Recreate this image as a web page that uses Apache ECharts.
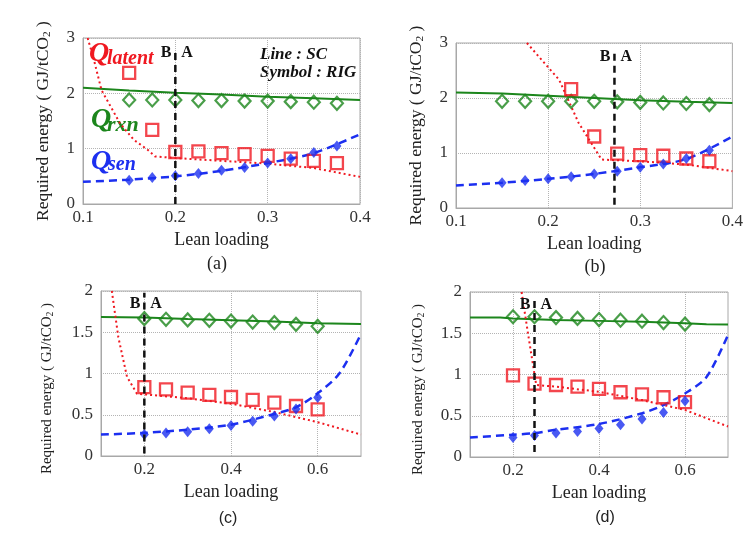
<!DOCTYPE html>
<html>
<head>
<meta charset="utf-8">
<script src="https://cdn.jsdelivr.net/npm/echarts@6/dist/echarts.min.js"></script>
<style>html,body{margin:0;padding:0;background:#fff}#c{width:746px;height:535px}</style>
</head>
<body>
<div id="c"></div>
<script>
// ---------- Panel (a) ----------
const symXA   = [0.15, 0.175, 0.2, 0.225, 0.25, 0.275, 0.3, 0.325, 0.35, 0.375];
const rxnSymA = [1.88, 1.88, 1.88, 1.87, 1.87, 1.86, 1.86, 1.85, 1.84, 1.82];
const latSymA = [2.37, 1.34, 0.94, 0.95, 0.92, 0.90, 0.87, 0.82, 0.78, 0.74];
const senSymA = [0.43, 0.48, 0.51, 0.55, 0.61, 0.66, 0.74, 0.82, 0.93, 1.05];
const rxnLineXA = [0.1, 0.15, 0.2, 0.25, 0.3, 0.35, 0.4];
const rxnLineA  = [2.10, 2.05, 2.01, 1.98, 1.94, 1.91, 1.88];
const latLineXA = [0.105, 0.111, 0.12, 0.14, 0.155, 0.17, 0.178, 0.2, 0.25, 0.3, 0.35, 0.4];
const latLineA  = [3.0, 2.66, 2.06, 1.46, 1.16, 0.98, 0.86, 0.83, 0.78, 0.73, 0.65, 0.49];
const senLineXA = [0.1, 0.15, 0.2, 0.25, 0.3, 0.35, 0.4];
const senLineA  = [0.40, 0.44, 0.50, 0.60, 0.74, 0.92, 1.26];
const dividerA  = {x: 0.2, top: 2.8, bottom: 0, label: 2.73};

// ---------- Panel (b) ----------
const symXB   = [0.15, 0.175, 0.2, 0.225, 0.25, 0.275, 0.3, 0.325, 0.35, 0.375];
const rxnSymB = [1.94, 1.94, 1.94, 1.94, 1.94, 1.93, 1.92, 1.91, 1.90, 1.88];
const latSymB = [null, null, null, 2.16, 1.30, 0.99, 0.96, 0.95, 0.90, 0.85];
const senSymB = [0.46, 0.50, 0.53, 0.57, 0.62, 0.67, 0.74, 0.80, 0.90, 1.05];
const rxnLineXB = [0.1, 0.15, 0.2, 0.25, 0.3, 0.35, 0.4];
const rxnLineB  = [2.10, 2.08, 2.04, 2.00, 1.96, 1.93, 1.91];
const latLineXB = [0.177, 0.212, 0.233, 0.258, 0.3, 0.35, 0.4];
const latLineB  = [3.0, 2.33, 1.55, 0.88, 0.85, 0.79, 0.67];
const senLineXB = [0.1, 0.15, 0.2, 0.25, 0.3, 0.35, 0.4];
const senLineB  = [0.41, 0.46, 0.53, 0.62, 0.74, 0.89, 1.30];
const dividerB  = {x: 0.272, top: 2.85, bottom: 0.06, label: 2.74};

// ---------- Panel (c) ----------
const symXC   = [0.2, 0.25, 0.3, 0.35, 0.4, 0.45, 0.5, 0.55, 0.6];
const rxnSymC = [1.665, 1.657, 1.65, 1.645, 1.636, 1.624, 1.616, 1.596, 1.572];
const latSymC = [0.836, 0.808, 0.768, 0.74, 0.715, 0.68, 0.646, 0.606, 0.566];
const senSymC = [0.26, 0.28, 0.295, 0.33, 0.37, 0.42, 0.485, 0.57, 0.71];
const rxnLineXC = [0.1, 0.2, 0.3, 0.4, 0.5, 0.6, 0.7];
const rxnLineC  = [1.685, 1.68, 1.66, 1.645, 1.63, 1.61, 1.60];
const latLineXC = [0.125, 0.14, 0.16, 0.183, 0.3, 0.4, 0.5, 0.6, 0.7];
const latLineC  = [2.0, 1.44, 0.96, 0.755, 0.70, 0.634, 0.533, 0.41, 0.26];
const senLineXC = [0.1, 0.2, 0.3, 0.4, 0.5, 0.55, 0.6, 0.65, 0.7];
const senLineC  = [0.26, 0.28, 0.32, 0.38, 0.51, 0.59, 0.76, 1.0, 1.48];
const dividerC  = {x: 0.2, top: 1.98, bottom: 0.03, label: 1.85};

// ---------- Panel (d) ----------
const symXD   = [0.2, 0.25, 0.3, 0.35, 0.4, 0.45, 0.5, 0.55, 0.6];
const rxnSymD = [1.70, 1.70, 1.69, 1.68, 1.666, 1.658, 1.646, 1.63, 1.61];
const latSymD = [0.99, 0.89, 0.873, 0.853, 0.825, 0.785, 0.76, 0.724, 0.664];
const senSymD = [0.237, 0.26, 0.29, 0.31, 0.346, 0.39, 0.46, 0.54, 0.68];
const rxnLineXD = [0.1, 0.17, 0.2, 0.3, 0.4, 0.5, 0.6, 0.65, 0.7];
const rxnLineD  = [1.69, 1.69, 1.68, 1.66, 1.65, 1.64, 1.62, 1.61, 1.605];
const latLineXD = [0.22, 0.236, 0.254, 0.3, 0.4, 0.5, 0.6, 0.7];
const latLineD  = [2.0, 1.46, 0.873, 0.853, 0.79, 0.69, 0.57, 0.37];
const senLineXD = [0.1, 0.2, 0.25, 0.3, 0.4, 0.5, 0.55, 0.6, 0.65, 0.7];
const senLineD  = [0.237, 0.27, 0.29, 0.33, 0.40, 0.53, 0.63, 0.77, 0.97, 1.48];
const dividerD  = {x: 0.25, top: 1.9, bottom: 0.06, label: 1.84};

// ---------- Axis ticks ----------
const xTicksAB = [0.1, 0.2, 0.3, 0.4];
const xTicksCD = [0.2, 0.4, 0.6];
const yMaxAB = 3, yStepAB = 1;
const yMaxCD = 2, yStepCD = 0.5;

const SERIF = 'Liberation Serif';
const GREEN = '#1c861c', RED = '#f01820', BLUE = '#1c2ff0';

const pairs = (xs, ys) => xs.map((x, i) => [x, ys[i]]).filter(p => p[1] != null);

const panels = [
  {g: {left: 83, top: 38, width: 277, height: 166}, xr: [0.1, 0.4], xt: xTicksAB, ym: yMaxAB, ys: yStepAB, nameFs: 17.5, nameGap: 30, namePad: [0,0,0,0],
   sx: symXA, rs: rxnSymA, ls: latSymA, ss: senSymA, rl: [rxnLineXA, rxnLineA], ll: [latLineXA, latLineA], sl: [senLineXA, senLineA], dv: dividerA},
  {g: {left: 456, top: 43, width: 279, height: 165}, xr: [0.1, 0.4], xt: xTicksAB, ym: yMaxAB, ys: yStepAB, nameFs: 17.5, nameGap: 30, namePad: [0,0,0,0],
   sx: symXB, rs: rxnSymB, ls: latSymB, ss: senSymB, rl: [rxnLineXB, rxnLineB], ll: [latLineXB, latLineB], sl: [senLineXB, senLineB], dv: dividerB},
  {g: {left: 101, top: 291, width: 260, height: 165}, xr: [0.1, 0.7], xt: xTicksCD, ym: yMaxCD, ys: yStepCD, nameFs: 15, nameGap: 46, namePad: [0,30,0,0],
   sx: symXC, rs: rxnSymC, ls: latSymC, ss: senSymC, rl: [rxnLineXC, rxnLineC], ll: [latLineXC, latLineC], sl: [senLineXC, senLineC], dv: dividerC},
  {g: {left: 470, top: 292, width: 258, height: 165}, xr: [0.1, 0.7], xt: xTicksCD, ym: yMaxCD, ys: yStepCD, nameFs: 15, nameGap: 44, namePad: [0,30,0,0],
   sx: symXD, rs: rxnSymD, ls: latSymD, ss: senSymD, rl: [rxnLineXD, rxnLineD], ll: [latLineXD, latLineD], sl: [senLineXD, senLineD], dv: dividerD}
];

const grid = [], xAxis = [], yAxis = [], series = [];
panels.forEach((p, i) => {
  grid.push(Object.assign({show: true, borderColor: '#a8a8a8', borderWidth: 1, backgroundColor: '#fff'}, p.g));
  xAxis.push({
    type: 'value', gridIndex: i, min: p.xr[0], max: p.xr[1],
    name: 'Lean loading', nameLocation: 'middle', nameGap: 27,
    nameTextStyle: {fontFamily: SERIF, fontSize: 18, color: '#222'},
    axisLine: {show: true, lineStyle: {color: '#a8a8a8'}},
    axisTick: {show: false, customValues: p.xt},
    axisLabel: {customValues: p.xt, fontFamily: SERIF, fontSize: 17, color: '#333', margin: 5, formatter: v => String(+v.toFixed(2))},
    splitLine: {show: true, lineStyle: {color: '#b4b4b4', type: 'dotted', width: 1}}
  });
  yAxis.push({
    type: 'value', gridIndex: i, min: 0, max: p.ym, interval: p.ys,
    name: '{t|Required energy ( GJ/tCO}{s|2}{t| )}', nameLocation: 'middle', nameGap: p.nameGap, nameRotate: 90,
    nameTextStyle: {padding: p.namePad, rich: {t: {fontFamily: SERIF, fontSize: p.nameFs, color: '#222'}, s: {fontFamily: SERIF, fontSize: p.nameFs * 0.65, color: '#222', padding: [p.nameFs * 0.45, 0, 0, 0]}}},
    axisLine: {show: true, lineStyle: {color: '#a8a8a8'}},
    axisTick: {show: false},
    axisLabel: {fontFamily: SERIF, fontSize: 17, color: '#333', margin: 8},
    splitLine: {show: true, lineStyle: {color: '#b4b4b4', type: 'dotted', width: 1}}
  });
  const base = {xAxisIndex: i, yAxisIndex: i, animation: false, silent: true};
  series.push(Object.assign({type: 'line', data: pairs(p.rl[0], p.rl[1]), showSymbol: false, lineStyle: {color: GREEN, width: 2}, z: 2}, base));
  series.push(Object.assign({type: 'line', data: pairs(p.ll[0], p.ll[1]), showSymbol: false, lineStyle: {color: RED, width: 2, type: [2, 3]}, z: 2}, base));
  series.push(Object.assign({type: 'line', data: pairs(p.sl[0], p.sl[1]), showSymbol: false, smooth: 0.3, lineStyle: {color: BLUE, width: 2.5, type: [8, 5]}, z: 2}, base));
  series.push(Object.assign({type: 'scatter', data: pairs(p.sx, p.rs), symbol: 'diamond', symbolSize: [12, 13], itemStyle: {color: 'rgba(0,0,0,0)', borderColor: GREEN, borderWidth: 2.2}, z: 3}, base));
  series.push(Object.assign({type: 'scatter', data: pairs(p.sx, p.ls), symbol: 'rect', symbolSize: 12, itemStyle: {color: 'rgba(0,0,0,0)', borderColor: RED, borderWidth: 2.3}, z: 3}, base));
  series.push(Object.assign({type: 'scatter', data: pairs(p.sx, p.ss), symbol: 'diamond', symbolSize: [9, 11], itemStyle: {color: BLUE}, z: 3}, base));
  series.push(Object.assign({
    type: 'line', data: [[p.dv.x, p.dv.bottom], [p.dv.x, p.dv.top]], showSymbol: false,
    lineStyle: {color: '#111', width: 2.5, type: [7, 5]}, z: 4,
    markPoint: {
      symbol: 'circle', symbolSize: 0, silent: true,
      label: {show: true, fontFamily: SERIF, fontWeight: 'bold', fontSize: 16, color: '#111'},
      data: [
        {coord: [p.dv.x, p.dv.label], label: {formatter: 'B', position: 'left', distance: 4}},
        {coord: [p.dv.x, p.dv.label], label: {formatter: 'A', position: 'right', distance: 6}}
      ]
    }
  }, base));
});

const txt = (x, y, text, font, color, extra) => ({type: 'text', x, y, silent: true,
  style: Object.assign({text, font, fill: color, textVerticalAlign: 'top'}, extra || {})});

const graphic = [
  txt(89, 40, 'Q', 'italic bold 28px "Liberation Serif"', RED),
  txt(107, 49, 'latent', 'italic bold 20px "Liberation Serif"', RED),
  txt(91, 106, 'Q', 'italic bold 28px "Liberation Serif"', GREEN),
  txt(107, 114, 'rxn', 'italic bold 22px "Liberation Serif"', GREEN),
  txt(91, 148, 'Q', 'italic bold 28px "Liberation Serif"', BLUE),
  txt(108, 155, 'sen', 'italic bold 20px "Liberation Serif"', BLUE),
  txt(260, 46, 'Line : SC', 'italic bold 17px "Liberation Serif"', '#111'),
  txt(260, 64, 'Symbol : RIG', 'italic bold 17px "Liberation Serif"', '#111'),
  txt(217, 255, '(a)', '18px "Liberation Serif"', '#222', {textAlign: 'center'}),
  txt(595, 258, '(b)', '18px "Liberation Serif"', '#222', {textAlign: 'center'}),
  txt(228, 511, '(c)', '16px "Liberation Sans"', '#222', {textAlign: 'center'}),
  txt(605, 510, '(d)', '16px "Liberation Sans"', '#222', {textAlign: 'center'})
];

const chart = echarts.init(document.getElementById('c'), null, {renderer: 'canvas'});
chart.setOption({animation: false, backgroundColor: '#fff', grid, xAxis, yAxis, series, graphic});
</script>
</body>
</html>
